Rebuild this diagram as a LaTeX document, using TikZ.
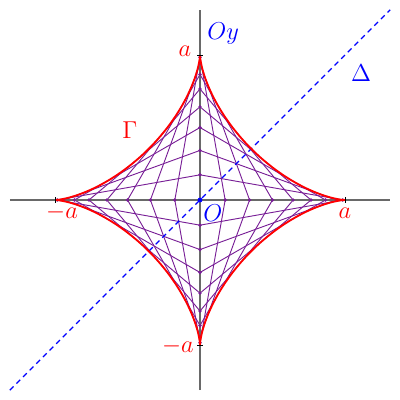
\documentclass[tikz,border=0pt]{standalone}
\usetikzlibrary{positioning}
\definecolor{chordcol}{RGB}{120,30,150}
\definecolor{axiscol}{RGB}{105,105,105}
\tikzset{
  axis/.style={axiscol, line width=0.8pt},
  astroid/.style={red, line width=0.9pt},
  chord/.style={chordcol, line width=0.45pt},
  diag/.style={blue, line width=0.55pt, dash pattern=on 2.6pt off 2pt},
  redlab/.style={red, inner sep=0pt, font=\large},
  bluelab/.style={blue, inner sep=0pt, font=\large}
}
\begin{document}
\begin{tikzpicture}
  \def\a{2.5}
  \useasboundingbox (-3.45,-3.45) rectangle (3.45,3.45);
  \coordinate (W) at (-3.28,0);
  \coordinate (E) at (3.28,0);
  \coordinate (S) at (0,-3.28);
  \coordinate (N) at (0,3.28);
  \coordinate (O) at (0,0);
  % chords of length a
  \foreach \t in {10,20,...,80}{
    \coordinate (px\t) at ({\a*cos(\t)},0);
    \coordinate (nx\t) at ({-\a*cos(\t)},0);
    \coordinate (py\t) at (0,{\a*sin(\t)});
    \coordinate (ny\t) at (0,{-\a*sin(\t)});
    \draw[chord] (px\t) -- (py\t);
    \draw[chord] (nx\t) -- (py\t);
    \draw[chord] (nx\t) -- (ny\t);
    \draw[chord] (px\t) -- (ny\t);
  }
  % axes
  \draw[axis] (W) -- (E);
  \draw[axis] (S) -- (N);
  \foreach \t in {10,20,...,80}
    \fill[chordcol] (px\t) circle (0.9pt) (nx\t) circle (0.9pt)
      (py\t) circle (0.9pt) (ny\t) circle (0.9pt);
  % the line Delta
  \coordinate (D1) at (-3.28,-3.28);
  \coordinate (D2) at (3.28,3.28);
  \draw[diag] (D1) -- (D2);
  % the astroid Gamma
  \draw[astroid] plot[domain=0:360, samples=200, smooth]
    ({\a*cos(\x)^3},{\a*sin(\x)^3});
  % ticks at a and -a
  \begin{scope}[black, line width=0.4pt]
    \draw (\a,-0.05) -- (\a,0.05);
    \draw (-\a,-0.05) -- (-\a,0.05);
    \draw (-0.05,\a) -- (0.05,\a);
    \draw (-0.05,-\a) -- (0.05,-\a);
  \end{scope}
  \fill[blue] (O) circle (1.2pt);
  % labels
  \node[redlab] (ra) at (\a,-0.22) {$a$};
  \node[redlab] (la) at (-2.38,-0.22) {$-a$};
  \node[redlab] (ta) at (-0.26,2.56) {$a$};
  \node[redlab] (ba) at (-0.38,-2.53) {$-a$};
  \node[bluelab] (oy) at (0.4,2.88) {$Oy$};
  \node[bluelab] (o) at (0.22,-0.22) {$O$};
  \node[bluelab] (delta) at (2.78,2.19) {$\Delta$};
  \node[redlab] (gamma) at (-1.21,1.21) {$\Gamma$};
\end{tikzpicture}
\end{document}
